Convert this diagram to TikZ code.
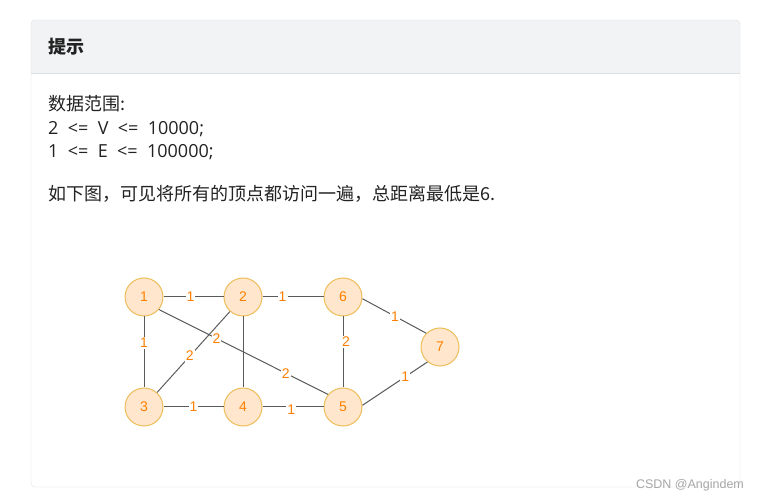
\documentclass[tikz,border=0pt]{standalone}
\usepackage{fontspec}
\usepackage{xcolor}
\usepackage{tikz}
\usetikzlibrary{positioning,calc}
\setmainfont{Noto Sans CJK SC}
\newfontfamily\numfont{Liberation Sans}
\newfontfamily\widefont[WordSpace=2]{Open Sans}
\definecolor{cardline}{HTML}{DCDFE6}
\definecolor{headbg}{HTML}{F2F3F5}
\definecolor{ink}{HTML}{222222}
\definecolor{edgegray}{HTML}{5A5A5A}
\definecolor{vtxfill}{HTML}{FFE6CC}
\definecolor{vtxline}{HTML}{EDBE5A}
\definecolor{wtorange}{HTML}{FF8000}
\definecolor{markgray}{HTML}{A6A6A6}
\tikzset{
  vtx/.style={circle,draw=vtxline,fill=vtxfill,line width=1pt,minimum size=38pt,
    inner sep=0pt,text=wtorange,font=\numfont\fontsize{14}{16}\selectfont},
  edg/.style={draw=edgegray,line width=1pt},
  wt/.style={fill=white,inner sep=1pt,text=wtorange,font=\numfont\fontsize{14}{16}\selectfont},
  txt/.style={anchor=base west,inner sep=0pt,text=ink,font=\fontsize{18}{23}\selectfont},
  hdr/.style={anchor=base west,inner sep=0pt,text=ink,font=\bfseries\fontsize{18}{23}\selectfont},
}

\begin{document}
\begin{tikzpicture}[x=1pt,y=-1pt]
  \useasboundingbox (0,0) rectangle (761,502);
  \fill[white] (0,0) rectangle (761,502);
  % card
  \fill[white,rounded corners=4pt] (31,20) rectangle (740,487);
  \fill[headbg,rounded corners=4pt] (31,20) rectangle (740,73);
  \fill[headbg] (31,60) rectangle (740,73);
  \draw[cardline] (31,73) -- (740,73);
  \draw[cardline,rounded corners=4pt] (31,20) rectangle (740,487);
  \node[hdr] (title) at (48,54) {提示};
  \node[txt] (range) at (48,111) {数据范围:};
  \node[txt] (vlim) at (48,135) {\widefont 2 <= V <= 10000;};
  \node[txt] (elim) at (48,158) {\widefont 1 <= E <= 100000;};
  \node[txt] (note) at (48,201) {如下图，可见将所有的顶点都访问一遍，总距离最低是6.};
  % graph
  \node[vtx] (v1) at (144,297) {1};
  \node[vtx] (v2) at (243,297) {2};
  \node[vtx] (v6) at (343,297) {6};
  \node[vtx] (v7) at (440,347) {7};
  \node[vtx] (v3) at (144,407) {3};
  \node[vtx] (v4) at (243,407) {4};
  \node[vtx] (v5) at (343,407) {5};
  \draw[edg] (v2) -- (v4);
  \draw[edg] (v2) -- node[wt,pos=.55] {2} (v3);
  \draw[edg] (v1.-40) -- node[wt,pos=.34] {2} node[wt,pos=.75] {2} (v5.140);
  \draw[edg] (v1) -- node[wt,pos=.45] {1} (v2);
  \draw[edg] (v2) -- node[wt,pos=.33] {1} (v6);
  \draw[edg] (v6.-5) -- node[wt,pos=.51] {1} (v7.135);
  \draw[edg] (v1) -- node[wt,pos=.37] {1} (v3);
  \draw[edg] (v6) -- node[wt,pos=.36,xshift=3pt] {2} (v5);
  \draw[edg] (v3) -- node[wt,pos=.5] {1} (v4);
  \draw[edg] (v4) -- node[wt,pos=.47,yshift=-3pt] {1} (v5);
  \draw[edg] (v5.5) -- node[wt,pos=.66] {1} (v7.230);
  % watermark
  \node[text=markgray,font=\numfont\fontsize{12.5}{14}\selectfont] (mark) at (690,485) {CSDN @Angindem};
\end{tikzpicture}
\end{document}
